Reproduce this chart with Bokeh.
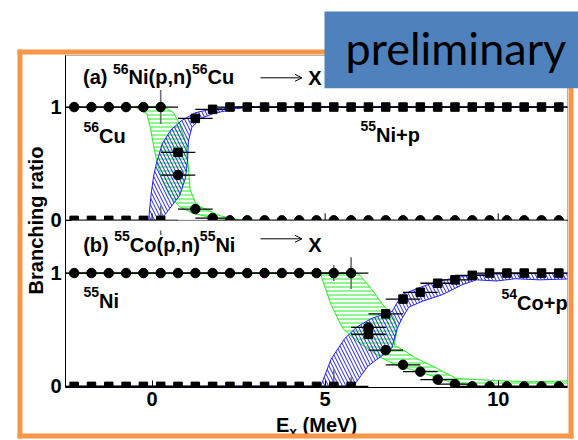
import math
from bokeh.plotting import figure
from bokeh.models import (Range1d, FixedTicker, Label, BoxAnnotation,
                          Arrow, OpenHead, LinearAxis)
from bokeh.embed import file_html
from bokeh.resources import INLINE

# ---------------- data ----------------
ex_bins = [-2.25, -1.75, -1.25, -0.75, -0.25, 0.25, 0.75, 1.25, 1.75, 2.25,
           2.75, 3.25, 3.75, 4.25, 4.75, 5.25, 5.75, 6.25, 6.75, 7.25,
           7.75, 8.25, 8.75, 9.25, 9.75, 10.25, 10.75, 11.25, 11.75]
ex_halfwidth = 0.5

# (a) 56Ni(p,n)56Cu -> X
a_cu56 = [1, 1, 1, 1, 1, 1, 0.40, 0.10, 0.02, 0, 0, 0, 0, 0, 0, 0, 0, 0, 0, 0,
          0, 0, 0, 0, 0, 0, 0, 0, 0]
a_ni55p = [0, 0, 0, 0, 0, 0, 0.60, 0.90, 0.98, 1, 1, 1, 1, 1, 1, 1, 1, 1, 1, 1,
           1, 1, 1, 1, 1, 1, 1, 1, 1]
a_cu56_err = [0, 0, 0, 0, 0, 0.15, 0.04, 0.03, 0, 0, 0, 0, 0, 0, 0, 0, 0, 0, 0, 0,
              0, 0, 0, 0, 0, 0, 0, 0, 0]
a_ni55p_err = [0, 0, 0, 0, 0, 0.13, 0.04, 0.03, 0, 0, 0, 0, 0, 0, 0, 0, 0, 0, 0, 0,
               0, 0, 0, 0, 0, 0, 0, 0, 0]

# (b) 55Co(p,n)55Ni -> X
b_ni55 = [1, 1, 1, 1, 1, 1, 1, 1, 1, 1, 1, 1, 1, 1, 1, 1, 1, 0.52, 0.32, 0.19,
          0.13, 0.06, 0.02, 0.0, 0, 0, 0, 0, 0]
b_co54p = [0, 0, 0, 0, 0, 0, 0, 0, 0, 0, 0, 0, 0, 0, 0, 0, 0, 0.46, 0.64, 0.77,
           0.83, 0.91, 0.94, 0.98, 1, 1, 1, 1, 1]
b_ni55_err = [0, 0, 0, 0, 0, 0, 0, 0, 0, 0, 0, 0, 0, 0, 0, 0.07, 0.14, 0, 0, 0,
              0, 0, 0, 0, 0, 0, 0, 0, 0]
b_co54p_err = [0, 0, 0, 0, 0, 0, 0, 0, 0, 0, 0, 0, 0, 0, 0, 0.15, 0.08, 0, 0, 0,
               0, 0, 0, 0, 0, 0, 0, 0, 0]

# uncertainty bands (edge curves)
a_green_lo_x = [-0.48, -0.15, -0.05, 0.05, 0.15, 0.30, 0.50, 0.80, 1.20, 1.80, 2.60]
a_green_lo_y = [1.00, 0.94, 0.82, 0.65, 0.50, 0.35, 0.22, 0.12, 0.06, 0.02, 0.00]
a_green_hi_x = [-0.48, 0.35, 0.62, 0.80, 0.98, 1.05, 1.10, 1.25, 1.40, 1.97, 2.60]
a_green_hi_y = [1.00, 1.00, 0.95, 0.85, 0.68, 0.47, 0.27, 0.16, 0.12, 0.04, 0.00]

a_blue_up_x = [-0.10, -0.07, -0.02, 0.05, 0.14, 0.30, 0.55, 0.85, 1.25, 1.75, 2.40, 12.2]
a_blue_up_y = [0.00, 0.10, 0.25, 0.40, 0.52, 0.68, 0.80, 0.88, 0.95, 0.985, 1.00, 1.00]
a_blue_lo_x = [0.25, 0.50, 0.80, 0.97, 1.03, 1.05, 1.15, 1.40, 1.80, 2.40, 2.90, 12.2]
a_blue_lo_y = [0.00, 0.10, 0.22, 0.38, 0.55, 0.70, 0.82, 0.90, 0.945, 0.985, 1.00, 1.00]

b_green_hi_x = [-2.6, 5.95, 6.39, 6.64, 6.98, 7.08, 7.03, 7.00, 7.27, 7.61, 8.10, 8.78,
                9.37, 10.0, 11.0, 12.2]
b_green_hi_y = [1.00, 1.00, 0.84, 0.73, 0.61, 0.51, 0.42, 0.36, 0.32, 0.25, 0.18, 0.07,
                0.06, 0.05, 0.04, 0.05]
b_green_lo_x = [-2.6, 4.87, 4.90, 5.17, 5.51, 5.95, 6.64, 7.03, 7.80, 8.60, 9.37, 12.2]
b_green_lo_y = [1.00, 1.00, 0.96, 0.72, 0.51, 0.39, 0.25, 0.19, 0.12, 0.04, 0.00, 0.00]

b_blue_up_x = [-2.6, 4.87, 5.17, 5.56, 5.90, 6.34, 6.93, 7.22, 7.80, 8.29, 8.98, 9.37, 12.2]
b_blue_up_y = [0.00, 0.00, 0.24, 0.42, 0.52, 0.60, 0.66, 0.81, 0.88, 0.93, 0.97, 0.99, 1.00]
b_blue_lo_x = [-2.6, 5.81, 6.24, 6.64, 6.93, 7.08, 7.22, 7.42, 7.80, 8.39, 8.98, 9.37,
               9.95, 10.5, 11.2, 12.2]
b_blue_lo_y = [0.00, 0.00, 0.18, 0.27, 0.34, 0.51, 0.60, 0.70, 0.75, 0.81, 0.90, 0.94,
               0.93, 0.95, 0.94, 0.95]

x_ticks = [0, 5, 10]
y_ticks = [0, 1]
y_tick_labels = ["0", "1"]

# ---------------- layout ----------------
X_MIN, X_MAX = -2.5, 12.0         # plotted energy window
Y_MIN, Y_MAX = -0.01, 2.92        # both panels, in panel (b) units
PANEL_OFFSET = 1.465              # panel (a) sits this far above panel (b)
FONT = "Liberation Sans"
GREEN = "#22ee22"
BLUE = "#2020ff"
ORANGE = "#f79646"

# advance widths of Liberation Sans Bold (per 1000 em)
ADV = {"(": 333, ")": 333, "a": 556, "b": 611, " ": 278, "N": 722, "i": 278,
       "p": 611, ",": 278, "n": 611, "C": 722, "u": 611, "o": 611, "+": 584,
       "4": 556, "5": 556, "6": 556, "E": 667, "x": 556, "M": 833, "e": 556,
       "V": 667}


def X(px):   # picture column -> data x
    return X_MIN + (px - 65.0) / 34.62


def YB(py):  # picture row -> panel (b) data y
    return Y_MIN + (387.0 - py) / 113.31


p = figure(width=578, height=440, x_range=Range1d(X(0), X(578)),
           y_range=Range1d(YB(440), YB(0)), output_backend="svg",
           toolbar_location=None, x_axis_location=None, y_axis_location=None,
           min_border=0)
p.extra_y_ranges = {"a": Range1d(YB(440) - PANEL_OFFSET, YB(0) - PANEL_OFFSET)}
p.xgrid.visible = False
p.ygrid.visible = False
p.outline_line_color = None
p.background_fill_color = "white"
p.border_fill_color = "white"


def band(xl, yl, xh, yh, color, pattern, scale, rng):
    xs = list(xl) + list(xh)[::-1]
    ys = list(yl) + list(yh)[::-1]
    kw = {} if rng is None else {"y_range_name": rng}
    p.patch(xs, ys, fill_color=None, line_color=color, line_width=1,
            hatch_pattern=pattern, hatch_color=color, hatch_scale=scale,
            hatch_weight=1, **kw)


def points(xv, yv, yerr, marker, size, rng):
    kw = {} if rng is None else {"y_range_name": rng}
    p.segment([x - ex_halfwidth for x in xv], yv, [x + ex_halfwidth for x in xv], yv,
              line_color="black", line_width=1.3, **kw)
    ex = [x for x, e in zip(xv, yerr) if e > 0]
    lo = [y - e for y, e in zip(yv, yerr) if e > 0]
    hi = [y + e for y, e in zip(yv, yerr) if e > 0]
    p.segment(ex, lo, ex, hi, line_color="#6e6e6e", line_width=1.6, **kw)
    p.scatter(xv, yv, marker=marker, size=size, fill_color="black",
              line_color="black", **kw)


# panel (a)
band(a_green_lo_x, a_green_lo_y, a_green_hi_x, a_green_hi_y, GREEN,
     "horizontal_line", 4, "a")
band(a_blue_up_x, a_blue_up_y, a_blue_lo_x, a_blue_lo_y, BLUE,
     "left_diagonal_line", 7, "a")
points(ex_bins, a_ni55p, a_ni55p_err, "square", 8.5, "a")
points(ex_bins, a_cu56, a_cu56_err, "circle", 9.5, "a")

# panel (b)
band(b_green_lo_x, b_green_lo_y, b_green_hi_x, b_green_hi_y, GREEN,
     "horizontal_line", 4, None)
band(b_blue_up_x, b_blue_up_y, b_blue_lo_x, b_blue_lo_y, BLUE,
     "left_diagonal_line", 7, None)
points(ex_bins, b_co54p, b_co54p_err, "square", 8.5, None)
points(ex_bins, b_ni55, b_ni55_err, "circle", 9.5, None)

# ticks on the separating axis of panel (a)
p.segment(x_ticks, [0] * len(x_ticks), x_ticks, [0.062] * len(x_ticks),
          y_range_name="a", line_color="black", line_width=1)

# white masks: clip everything to the plotting window
for kw in [dict(right=X_MIN), dict(left=X_MAX), dict(top=Y_MIN)]:
    p.add_layout(BoxAnnotation(fill_color="white", fill_alpha=1.0, line_color=None, **kw))
p.add_layout(BoxAnnotation(left=X_MIN + 0.02, right=X_MAX - 0.02, bottom=-0.09, top=0.0,
                           y_range_name="a", fill_color="white", fill_alpha=1.0,
                           line_color=None))
# window outline and the line separating the two panels
p.add_layout(BoxAnnotation(left=X_MIN, right=X_MAX, bottom=Y_MIN, top=Y_MAX,
                           fill_color=None, line_color="black", line_width=1))
p.add_layout(BoxAnnotation(left=X_MIN, right=X_MAX, bottom=0.0, top=0.0,
                           y_range_name="a", fill_color=None, line_color="black",
                           line_width=1))

# axes fixed at the window edges
xa = LinearAxis(fixed_location=Y_MIN, bounds=(X_MIN, X_MAX),
                ticker=FixedTicker(ticks=x_ticks))
ya_ticks = y_ticks + [t + PANEL_OFFSET for t in y_ticks]
ya = LinearAxis(fixed_location=X_MIN, bounds=(Y_MIN, Y_MAX),
                ticker=FixedTicker(ticks=ya_ticks))
ya.major_label_overrides = {t: lab for t, lab in zip(ya_ticks, y_tick_labels + y_tick_labels)}
for ax, tin, stand in [(xa, 7, 4), (ya, 6, 4)]:
    ax.level = "overlay"
    ax.major_tick_in = tin
    ax.major_tick_out = 0
    ax.minor_tick_in = 0
    ax.minor_tick_out = 0
    ax.axis_line_color = "black"
    ax.major_tick_line_color = "black"
    ax.major_label_text_font = FONT
    ax.major_label_text_font_style = "bold"
    ax.major_label_text_font_size = "20px"
    ax.major_label_text_color = "black"
    ax.major_label_standoff = stand
p.add_layout(xa, "below")
p.add_layout(ya, "left")


def txt(px, py, s, size=20, font=FONT, style="bold", align="left",
        baseline="alphabetic", **kw):
    # py is the wanted baseline row; the renderer draws text ~0.35 em lower
    shift = 0.35 * size if baseline == "alphabetic" else 0.0
    p.add_layout(Label(x=X(px), y=YB(py - shift), text=s, text_font=font,
                       text_font_style=style, text_font_size=f"{size}px",
                       text_color="black", text_baseline=baseline,
                       text_align=align, **kw))


def rich(px, py, parts, size=20, small=14, center=False):
    """Text with super-/subscripts: parts are (text, kind) with kind in '', 'sup', 'sub'."""
    def fs(kind):
        return size if kind == "" else small
    total = sum(ADV[c] * fs(k) / 1000.0 for t, k in parts for c in t)
    x = px - total / 2.0 if center else px
    for t, k in parts:
        base = py - 10.5 if k == "sup" else (py + 5 if k == "sub" else py)
        lead = len(t) - len(t.lstrip(" "))      # leading blanks are not drawn by SVG
        shown = t.strip(" ")
        if shown:
            txt(x + lead * ADV[" "] * fs(k) / 1000.0, base, shown, size=fs(k))
        x += sum(ADV[c] for c in t) * fs(k) / 1000.0


# texts inside panels
rich(82.5, 83.5, [("(a) ", ""), ("56", "sup"), ("Ni(p,n)", ""), ("56", "sup"), ("Cu", "")])
txt(307.7, 84.3, "X")
rich(83, 142, [("56", "sup"), ("Cu", "")])
rich(360, 141, [("55", "sup"), ("Ni+p", "")])
rich(82.7, 251, [("(b) ", ""), ("55", "sup"), ("Co(p,n)", ""), ("55", "sup"), ("Ni", "")])
txt(307.7, 251, "X")
rich(83, 307, [("55", "sup"), ("Ni", "")])
rich(501, 309, [("54", "sup"), ("Co+p", "")])

for ay in (77.3, 238.3):
    p.add_layout(Arrow(end=OpenHead(size=7, line_width=1, line_color="black"),
                       x_start=X(260), y_start=YB(ay), x_end=X(301.5), y_end=YB(ay),
                       line_width=1, line_color="black"))

# axis titles
rich(316, 431, [("E", ""), ("x", "sub"), (" (MeV)", "")], center=True)
txt(35, 220, "Branching ratio", align="center", baseline="middle",
    angle=math.pi / 2)

# orange border and "preliminary" banner
for l, r, b, t in [(17, 22, 438, 49), (17, 573, 54, 49), (568, 573, 438, 49),
                   (17, 573, 438, 433)]:
    p.add_layout(BoxAnnotation(left=X(l), right=X(r), bottom=YB(b), top=YB(t),
                               fill_color=ORANGE, fill_alpha=1.0, line_color=None))
p.add_layout(BoxAnnotation(left=X(324), right=X(580), bottom=YB(87.7), top=YB(11),
                           fill_color="#4f81bd", fill_alpha=1.0, line_color=None))
txt(345, 63.3, "preliminary", size=45, font="Lato", style="normal")

open("out.html", "w").write(file_html(p, INLINE))
